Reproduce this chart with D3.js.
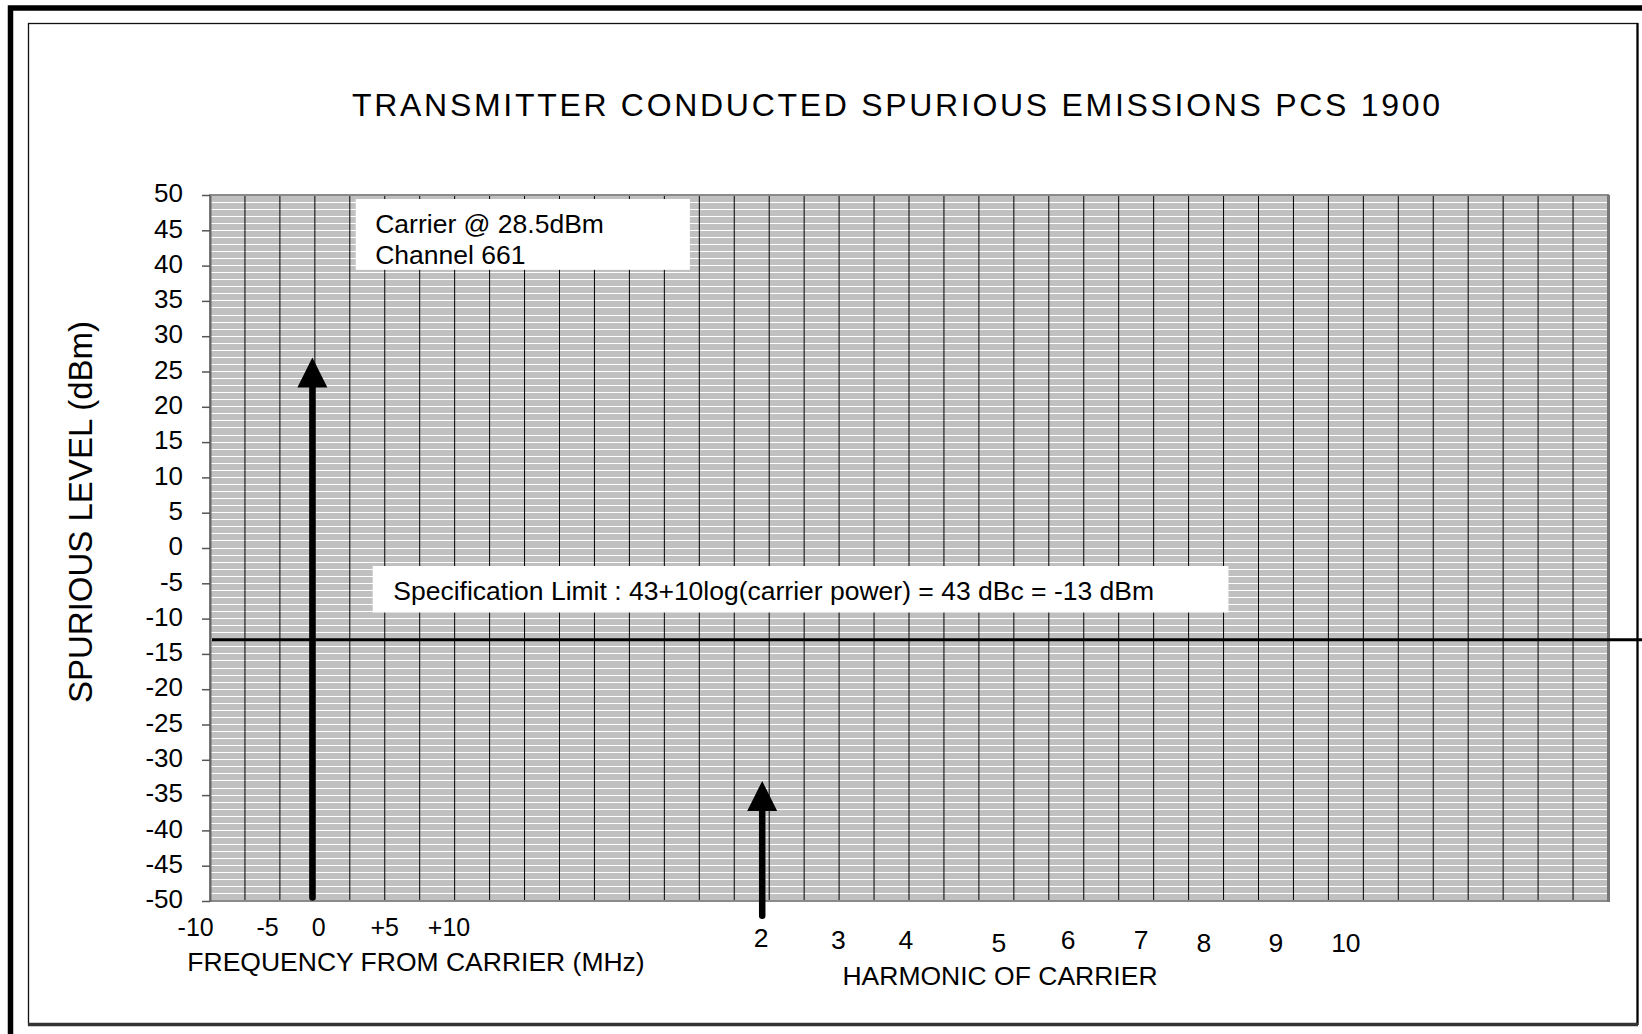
<!DOCTYPE html>
<html>
<head>
<meta charset="utf-8">
<script src="https://cdn.jsdelivr.net/npm/d3@7"></script>
<style>
  body { margin: 0; background: #fff; }
  svg { display: block; }
  text { font-family: Arial, "Liberation Sans", sans-serif; fill: #000; }
</style>
</head>
<body>
<div id="chart"></div>
<script>
// ---- values ----
var nColumns = 40;                       // vertical grid columns
var levelDomain = [-50, 50];             // dBm
var specLimit = -13;                     // dBm
var freqLabels = ["-10", "-5", "0", "+5", "+10"];
var freqLabelCol = [-0.41, 1.65, 3.11, 5.0, 6.84];
var harmonicLabels = ["2", "3", "4", "5", "6", "7", "8", "9", "10"];
var harmonicLabelCol = [15.77, 17.98, 19.91, 22.57, 24.55, 26.64, 28.44, 30.5, 32.5];
var arrowNames = ["carrier", "2nd harmonic"];
var arrowCol = [2.93, 15.8];
var arrowFrom = [-49.5, -52.1];
var arrowTo = [27, -33];
var carrierNote = ["Carrier @ 28.5dBm", "Channel 661"];
var specNote = "Specification Limit : 43+10log(carrier power) = 43 dBc = -13 dBm";

var width = 1642, height = 1034;
var svg = d3.select("#chart").append("svg")
    .attr("width", width)
    .attr("height", height);

var x = d3.scaleLinear().domain([0, nColumns]).range([210, 1608]);
var y = d3.scaleLinear().domain(levelDomain).range([901, 195]);

// frames
svg.append("rect")
    .attr("x", 10.5).attr("y", 8)
    .attr("width", width + 20).attr("height", height + 20)
    .attr("fill", "none").attr("stroke", "#000").attr("stroke-width", 5.5);
svg.append("rect")
    .attr("x", 28.5).attr("y", 23.5)
    .attr("width", 1609).attr("height", 1001)
    .attr("fill", "none").attr("stroke", "#111").attr("stroke-width", 1.3);
svg.append("line")
    .attr("x1", 1637.5).attr("x2", 1637.5).attr("y1", 23).attr("y2", 1025)
    .attr("stroke", "#000").attr("stroke-width", 2.2);
svg.append("line")
    .attr("x1", 28).attr("x2", 1638).attr("y1", 1024.5).attr("y2", 1024.5)
    .attr("stroke", "#333").attr("stroke-width", 3.5);

// title
svg.append("text")
    .attr("x", 352).attr("y", 116)
    .attr("font-size", 32)
    .attr("letter-spacing", 2.7)
    .text("TRANSMITTER CONDUCTED SPURIOUS EMISSIONS PCS 1900");

// plot area
var plot = svg.append("g");
plot.append("rect")
    .attr("x", x(0)).attr("y", y(50))
    .attr("width", x(nColumns) - x(0)).attr("height", y(-50) - y(50))
    .attr("fill", "#c0c0c0");

// minor horizontal lines every 1 dBm (white)
var minor = d3.range(levelDomain[0] + 1, levelDomain[1]);
plot.selectAll(".hgrid")
    .data(minor)
    .enter().append("line")
    .attr("class", "hgrid")
    .attr("x1", x(0)).attr("x2", x(nColumns))
    .attr("y1", d => y(d)).attr("y2", d => y(d))
    .attr("stroke", "#fff")
    .attr("stroke-width", 1)
    .attr("shape-rendering", "crispEdges");

// column lines
plot.selectAll(".vgrid")
    .data(d3.range(1, nColumns))
    .enter().append("line")
    .attr("class", "vgrid")
    .attr("x1", d => x(d)).attr("x2", d => x(d))
    .attr("y1", y(50)).attr("y2", y(-50))
    .attr("stroke", "#000")
    .attr("stroke-width", 1);

plot.append("rect")
    .attr("x", x(0)).attr("y", y(50))
    .attr("width", x(nColumns) - x(0)).attr("height", y(-50) - y(50))
    .attr("fill", "none").attr("stroke", "#8a8a8a").attr("stroke-width", 2);
plot.append("line")
    .attr("x1", x(nColumns) + 0.5).attr("x2", x(nColumns) + 0.5)
    .attr("y1", y(50)).attr("y2", y(-50) + 1)
    .attr("stroke", "#777").attr("stroke-width", 3);

// y axis (plain hyphen minus like the original)
var yAxis = d3.axisLeft(y).ticks(20).tickSize(8).tickSizeOuter(0).tickPadding(19)
    .tickFormat(d => String(d));
var gy = svg.append("g")
    .attr("transform", "translate(" + x(0) + ",0)")
    .call(yAxis);
gy.select(".domain").attr("stroke", "#666").attr("stroke-width", 2);
gy.selectAll(".tick line").attr("stroke", "#555").attr("stroke-width", 1.5);
gy.selectAll(".tick text")
    .attr("font-family", "Arial, 'Liberation Sans', sans-serif")
    .attr("font-size", 26)
    .attr("dy", "0.26em")
    .attr("fill", "#000");

svg.append("text")
    .attr("transform", "translate(92,512) rotate(-90)")
    .attr("text-anchor", "middle")
    .attr("font-size", 33)
    .text("SPURIOUS LEVEL (dBm)");

// annotation boxes
var carrierBox = { c0: 4.17, c1: 13.73, top: 49.43, bottom: 39.4 };
svg.append("rect")
    .attr("x", x(carrierBox.c0)).attr("y", y(carrierBox.top))
    .attr("width", x(carrierBox.c1) - x(carrierBox.c0))
    .attr("height", y(carrierBox.bottom) - y(carrierBox.top))
    .attr("fill", "#fff");
svg.selectAll(".cnote")
    .data(carrierNote)
    .enter().append("text")
    .attr("class", "cnote")
    .attr("x", x(carrierBox.c0) + 19.5)
    .attr("y", (d, i) => y(carrierBox.top) + 34 + i * 31)
    .attr("font-size", 26.5)
    .text(d => d);

var specBox = { c0: 4.655, c1: 29.14, top: -2.55, bottom: -9.14 };
svg.append("rect")
    .attr("x", x(specBox.c0)).attr("y", y(specBox.top))
    .attr("width", x(specBox.c1) - x(specBox.c0))
    .attr("height", y(specBox.bottom) - y(specBox.top))
    .attr("fill", "#fff");
svg.append("text")
    .attr("x", x(specBox.c0) + 20.6)
    .attr("y", y(specBox.top) + 34)
    .attr("font-size", 26.5)
    .text(specNote);

// spec limit line
svg.append("line")
    .attr("x1", x(0) + 2).attr("x2", width)
    .attr("y1", y(specLimit)).attr("y2", y(specLimit))
    .attr("stroke", "#000").attr("stroke-width", 3);

// arrows
var headH = 30, headW = 15;
var arrows = svg.selectAll(".arrow")
    .data(arrowNames)
    .enter().append("g")
    .attr("class", "arrow");
arrows.append("line")
    .attr("x1", (d, i) => x(arrowCol[i])).attr("x2", (d, i) => x(arrowCol[i]))
    .attr("y1", (d, i) => y(arrowFrom[i]))
    .attr("y2", (d, i) => y(arrowTo[i]) + headH - 2)
    .attr("stroke", "#000")
    .attr("stroke-width", 6.5)
    .attr("stroke-linecap", "round");
arrows.append("path")
    .attr("d", (d, i) => {
      var cx = x(arrowCol[i]), ty = y(arrowTo[i]);
      return "M" + cx + "," + ty + "L" + (cx + headW) + "," + (ty + headH) +
             "L" + (cx - headW) + "," + (ty + headH) + "Z";
    })
    .attr("fill", "#000");

// frequency labels
svg.selectAll(".flab")
    .data(freqLabels)
    .enter().append("text")
    .attr("class", "flab")
    .attr("x", (d, i) => x(freqLabelCol[i]))
    .attr("y", 935.5)
    .attr("text-anchor", "middle")
    .attr("font-size", 25)
    .text(d => d);
svg.append("text")
    .attr("x", 416).attr("y", 970.5)
    .attr("text-anchor", "middle")
    .attr("font-size", 26.5)
    .text("FREQUENCY FROM CARRIER (MHz)");

// harmonic labels (hand placed in the original, slightly staggered)
var harmonicNudge = [0, 2.4, 2.4, 5, 2.4, 2.4, 5, 5, 5];
svg.selectAll(".hlab")
    .data(harmonicLabels)
    .enter().append("text")
    .attr("class", "hlab")
    .attr("x", (d, i) => x(harmonicLabelCol[i]))
    .attr("y", (d, i) => 946.5 + harmonicNudge[i])
    .attr("text-anchor", "middle")
    .attr("font-size", 26.5)
    .text(d => d);
svg.append("text")
    .attr("x", 1000).attr("y", 984.7)
    .attr("text-anchor", "middle")
    .attr("font-size", 26.5)
    .text("HARMONIC OF CARRIER");
</script>
</body>
</html>
